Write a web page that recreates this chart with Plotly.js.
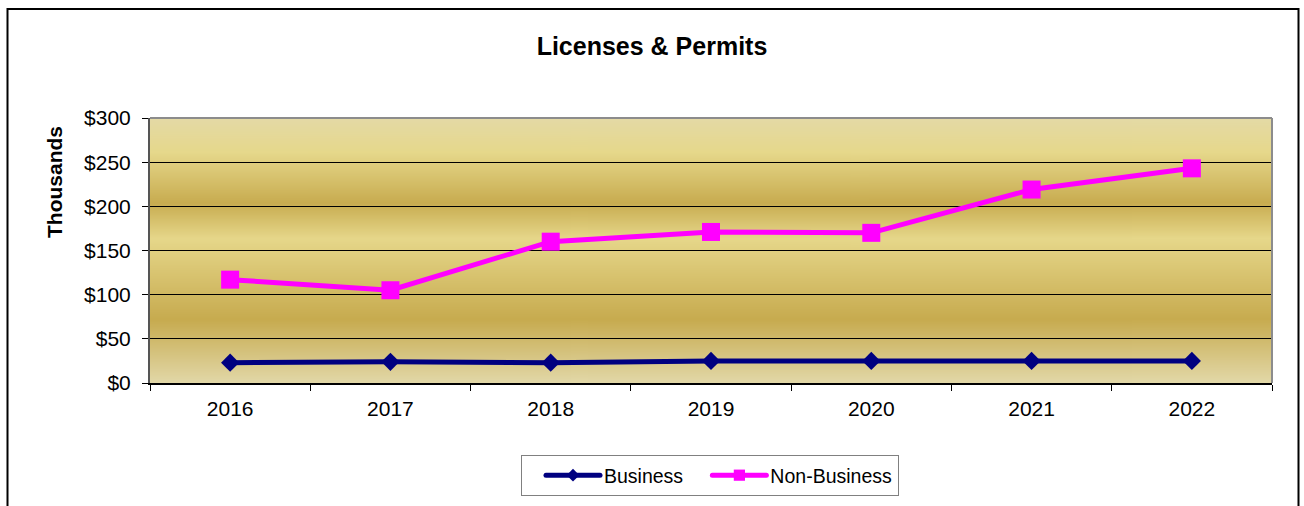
<!DOCTYPE html>
<html>
<head>
<meta charset="utf-8">
<script src="https://cdn.plot.ly/plotly-3.0.1.min.js"></script>
<style>
  html, body { margin: 0; padding: 0; background: #fff; }
  #chart { width: 1304px; height: 506px; }
</style>
</head>
<body>
<div id="chart"></div>
<script>
// ---- data ----
const years = ['2016', '2017', '2018', '2019', '2020', '2021', '2022'];
const business = [23, 24, 23, 25, 25, 25, 25];
const nonBusiness = [117, 105, 160, 171, 170, 219, 243];
const seriesNames = ['Business', 'Non-Business'];
const chartTitle = 'Licenses & Permits';
const yAxisTitle = 'Thousands';

// ---- gold banded background (decoration) ----
function goldBackground() {
  const c = document.createElement('canvas');
  c.width = 4; c.height = 530;
  const ctx = c.getContext('2d');
  const g = ctx.createLinearGradient(0, 0, 0, c.height);
  g.addColorStop(0.00, '#E4DAA6');
  g.addColorStop(0.13, '#E6D88B');
  g.addColorStop(0.32, '#C8AC50');
  g.addColorStop(0.455, '#E6D78A');
  g.addColorStop(0.76, '#C7AB4F');
  g.addColorStop(1.00, '#E2D8A8');
  ctx.fillStyle = g;
  ctx.fillRect(0, 0, c.width, c.height);
  return c.toDataURL('image/png');
}

const FONT = '"Liberation Sans", Arial, sans-serif';

const traces = [
  {
    x: years, y: business, name: seriesNames[0], type: 'scatter', mode: 'lines+markers',
    line: { color: '#000080', width: 5 },
    marker: { symbol: 'diamond', size: 14, color: '#000080' }
  },
  {
    x: years, y: nonBusiness, name: seriesNames[1], type: 'scatter', mode: 'lines+markers',
    line: { color: '#FF00FF', width: 5 },
    marker: { symbol: 'square', size: 18, color: '#FF00FF' }
  }
];

const layout = {
  width: 1304, height: 506,
  margin: { l: 150, r: 32, t: 118, b: 123 },
  paper_bgcolor: '#ffffff',
  plot_bgcolor: 'rgba(0,0,0,0)',
  font: { family: FONT, color: '#000' },
  title: {
    text: '<b>' + chartTitle + '</b>',
    font: { family: FONT, size: 25, color: '#000' },
    x: 0.5, xref: 'container', xanchor: 'center',
    y: 1 - 46 / 506, yref: 'container', yanchor: 'middle'
  },
  xaxis: {
    type: 'category',
    range: [-0.5, 6.5],
    tickson: 'boundaries',
    ticks: 'outside', ticklen: 6, tickwidth: 1, tickcolor: '#000',
    ticklabelstandoff: 6,
    showline: true, linecolor: '#000', linewidth: 1.5,
    showgrid: false, zeroline: false,
    tickfont: { family: FONT, size: 21, color: '#000' },
    fixedrange: true
  },
  yaxis: {
    range: [0, 300], dtick: 50, tick0: 0,
    tickprefix: '$',
    ticks: 'outside', ticklen: 6, tickwidth: 1, tickcolor: '#000',
    ticklabelstandoff: 7,
    showline: true, linecolor: '#555', linewidth: 2,
    showgrid: true, gridcolor: '#000', gridwidth: 1,
    zeroline: false,
    tickfont: { family: FONT, size: 21, color: '#000' },
    fixedrange: true
  },
  images: [{
    source: goldBackground(),
    xref: 'paper', yref: 'paper', x: 0, y: 1, sizex: 1, sizey: 1,
    xanchor: 'left', yanchor: 'top', sizing: 'stretch', layer: 'below'
  }],
  shapes: [
    { type: 'line', xref: 'paper', yref: 'paper', x0: 0, x1: 1, y0: 1, y1: 1,
      line: { color: '#8C8C8C', width: 2 } },
    { type: 'line', xref: 'paper', yref: 'paper', x0: 1, x1: 1, y0: 0, y1: 1,
      line: { color: '#8C8C8C', width: 2 } },
    { type: 'rect', xref: 'paper', yref: 'paper',
      x0: (7.5 - 150) / 1122, x1: (1298.5 - 150) / 1122,
      y0: (383 - 540) / 265, y1: (383 - 9) / 265,
      line: { color: '#000', width: 2 }, fillcolor: 'rgba(0,0,0,0)' }
  ],
  annotations: [{
    text: '<b>' + yAxisTitle + '</b>',
    textangle: -90,
    xref: 'paper', yref: 'paper',
    x: (54.5 - 150) / 1122, y: (383 - 182.5) / 265,
    xanchor: 'center', yanchor: 'middle', showarrow: false,
    font: { family: FONT, size: 21, color: '#000' }
  }],
  legend: {
    orientation: 'h',
    xref: 'container', yref: 'container',
    x: 521 / 1304, xanchor: 'left',
    y: 1 - 455 / 506, yanchor: 'top',
    bgcolor: '#fff', bordercolor: '#808080', borderwidth: 1,
    font: { family: FONT, size: 19.5, color: '#000' },
    itemwidth: 72
  },
  showlegend: true
};

Plotly.newPlot('chart', traces, layout, { displayModeBar: false, staticPlot: true }).then(function (gd) {
  // widen legend line samples and shrink legend markers to match the reference style
  gd.querySelectorAll('.legend .legendlines path').forEach(function (p) {
    p.setAttribute('d', 'M24,0h54');
    p.style.strokeLinecap = 'round';
  });
  gd.querySelectorAll('.legend .legendpoints path').forEach(function (p) {
    p.setAttribute('transform', 'translate(51,0) scale(0.7)');
  });
});
</script>
</body>
</html>
